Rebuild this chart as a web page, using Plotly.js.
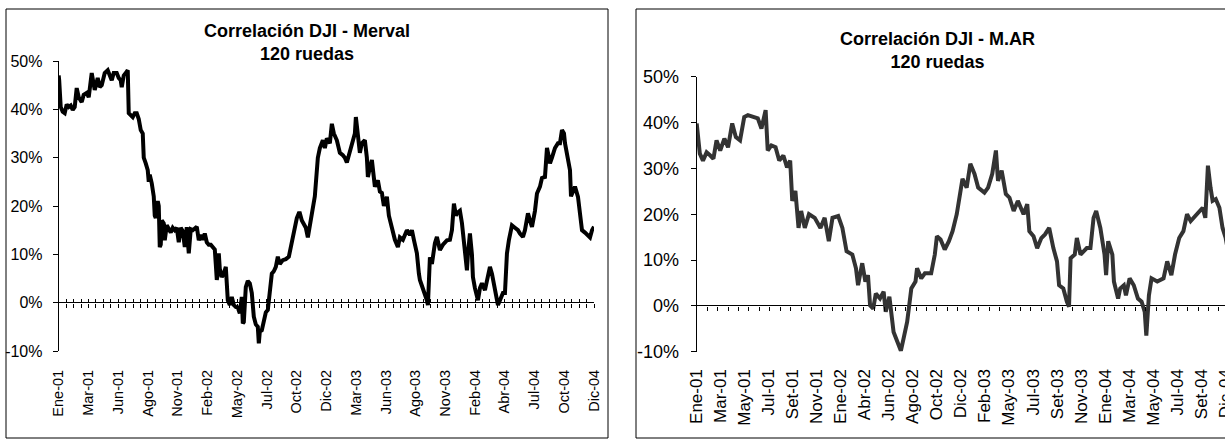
<!DOCTYPE html>
<html><head><meta charset="utf-8">
<script src="https://cdn.plot.ly/plotly-3.0.1.min.js"></script>
<style>html,body{margin:0;padding:0;overflow:hidden;background:#fff}#c{width:1250px;height:440px}</style>
</head><body><div id="c"></div>
<script>
// ---- Data (rueda index, correlation %) ----
const mervalDias = [0,1,4,8,12,16,20,24,28,32,36,40,46,50,56,60,66,70,72,78,82,86,92,98,102,106,110,116,120,124,126,130,134,138,140,144,148,152,156,160,164,168,170,174,178,180,182,186,190,192,194,196,198,200,202,204,206,210,212,216,220,224,228,232,236,240,244,248,252,256,260,264,268,272,276,280,284,288,292,296,300,304,308,312,314,316,318,320,322,326,330,334,336,338,342,346,350,354,358,362,366,368,370,372,374,378,382,386,390,394,398,400,402,406,410,414,418,422,426,430,434,438,442,448,454,460,464,468,472,476,480,482,486,490,494,498,502,506,508,512,518,522,528,532,536,542,546,550,556,562,568,572,576,582,588,592,594,598,602,606,612,616,618,622,626,632,638,642,646,650,656,660,666,672,678,682,688,692,696,702,706,710,716,720,722,726,732,736,738,742,746,752,756,760,762,768,772,776,782,786,790,794,796,802,806,808,812,816,818,822,826,828,832,838,842,846,852,856,862,866,872,876,878,882,888,892,896,900,906,912,918,922,928,932,938,942,946,952,956,962,966,972,976,980,982,986,992,998,1002,1006,1010,1012,1016,1022,1024,1028,1032,1038,1042,1046,1052,1056,1062,1066,1070];
const mervalCorr = [47,46,40.5,39.5,39.2,41,40.5,40.8,39.9,40.5,44.4,42.5,41.5,43,43.4,42.5,47.5,45,44,46.5,44.6,45,47.5,48.1,47,46,47.5,47.5,46.5,46,44.6,47,47.5,48.1,39.2,38.8,38.4,39.2,39.2,38,35.7,35,30,28.8,27.4,25,26.5,24.7,22,18,17.5,20.5,21,20,11.5,12,17,16.4,12.9,16,15.4,14.5,15.5,15,15.5,12.5,15.5,14.8,11.5,15.6,10.2,15.2,15,15.3,15.7,12.9,14,13,14.3,12.5,12,12,11.5,11,8,4.7,6,10.2,7,5.3,6,7.4,4,0.5,-0.5,1.2,-0.5,-0.9,-1,-2.2,1.2,-4.3,-4,1,3.2,4.5,4,2,-2.9,-4.5,-5,-8.4,-6,-5.7,-3.6,-2,-1.5,2.6,6,6.5,7.4,9.5,8,8.8,9,9.5,11.5,13,15.7,17.5,18.5,18.5,17,16,15.5,13.5,16,18,18.5,22,30,32,33.6,32,34,33,37,35,33.6,31,30.5,30,29,31,33,35,38.4,34,31,33,33.6,30,26,28,29.5,24,25.3,23,22.7,20,21.9,18,15.7,13,11.5,13.5,13,14,15,14,15,13,10.2,6,4.7,3.5,2,0.5,-0.5,9.4,8,12.3,13.6,11,10.9,12,12.5,12.9,13,15,20.5,18,18.5,19,16.5,14.3,12,6.7,10,14.3,10,5.3,3,0.5,3,4,2.6,4.5,7.4,6,3.2,1,-0.5,0.5,2,2,10.2,13,16,15.5,15,14.3,13.6,15,18.5,17,15.7,19,22.6,24,25.8,26,32,30,28.8,30,32,33,33,35.7,35,33,31,27.4,22,23.3,24,21.9,18,15,14.5,14,13.5,15,15.7];

const marDias = [0,6,12,19,26,32,38,45,53,60,68,75,83,91,98,109,117,124,132,136,143,151,158,166,173,179,183,189,195,200,207,215,226,237,245,253,260,271,279,287,298,305,309,317,323,328,332,338,343,351,358,362,369,377,385,391,396,403,411,419,422,430,437,449,456,460,467,475,483,490,498,505,509,517,524,532,539,551,558,566,573,577,584,592,599,607,615,626,633,637,645,652,660,667,675,683,690,694,702,709,713,716,724,728,735,747,754,760,765,773,781,784,788,796,799,807,811,818,822,829,837,845,852,858,861,866,871,882,894,901,909,916,924,932,939,946,958,969,974,979,984,988,994,1001,1007,1013,1017];
const marCorr = [39.8,33.2,31.7,33.5,32.8,32.1,36.1,33.9,36.5,34.6,39.8,36.8,36.1,41.2,41.6,41.2,40.9,38.7,42.7,33.9,35,34.6,31.7,32.8,30.2,31.7,22.9,25.1,17,20.7,17,20,19.2,17,19.2,14.1,19.2,19.6,17,11.9,11.2,8.2,4.5,9.3,5.3,6.7,0.1,-0.6,2.7,1.6,3.1,-1.3,2,-5.7,-7.9,-9.8,-7.2,-3.5,3.8,5.3,8.2,6,7.1,7.1,11.2,15.2,14.5,12.3,14.1,16.3,20,25.1,27.7,25.8,31,28.8,25.8,24.7,25.8,28.8,33.9,27.3,29.5,24.4,23.6,20.7,22.9,20,22.2,16.3,15.2,12.6,14.8,15.6,17,12.6,9.7,4.5,3.8,0.9,-0.2,10.4,11.2,14.8,11.2,12.6,12.6,19.2,20.7,17,11.2,6.7,14.1,11.2,5.3,1.6,3.8,4.5,2.3,6,4.5,1.6,0.9,-1.3,-6.5,2.3,6,5.3,6,9.7,6.7,11.2,14.8,16.3,20,18.5,20,21.4,19.2,30.6,25.8,22.9,23.3,21.4,17,14.8,12.3];

const mervalLabels = ['Ene-01','Mar-01','Jun-01','Ago-01','Nov-01','Feb-02','May-02','Jul-02','Oct-02','Dic-02','Mar-03','Jun-03','Ago-03','Nov-03','Feb-04','Abr-04','Jul-04','Oct-04','Dic-04'];
const marLabels = ['Ene-01','Mar-01','May-01','Jul-01','Set-01','Nov-01','Ene-02','Abr-02','Jun-02','Ago-02','Oct-02','Dic-02','Feb-03','May-03','Jul-03','Set-03','Nov-03','Ene-04','Mar-04','May-04','Jul-04','Set-04','Dic-04'];

const titles = ['Correlación DJI - Merval<br>120 ruedas', 'Correlación DJI - M.AR<br>120 ruedas'];

// ---- Layout config ----
const W = 1250, H = 440;
const FONT = 'Liberation Sans, Arial, sans-serif';
const L = {x0: 58.7, x1: 594, yTop: 61, yBot: 351, xmax: 1070, nTicks: 72};
const R = {x0: 696.7, x1: 1245, yTop: 76.7, yBot: 351.7, xmax: 1050, lblStep: 46, tickStep: 20};
const yr = [-10, 50];

function dom(a, b){ return [a / W, b / W]; }
function ydom(top, bot){ return [(H - bot) / H, (H - top) / H]; }
function zeroPos(d){ return d[0] + (0 - yr[0]) / (yr[1] - yr[0]) * (d[1] - d[0]); }

const Lxd = dom(L.x0, L.x1), Lyd = ydom(L.yTop, L.yBot);
const Rxd = dom(R.x0, R.x1), Ryd = ydom(R.yTop, R.yBot);

const LlabVals = mervalLabels.map((_, i) => i * L.xmax / (mervalLabels.length - 1));
const LtickVals = Array.from({length: L.nTicks + 1}, (_, i) => i * L.xmax / L.nTicks);
const RlabVals = marLabels.map((_, i) => i * R.lblStep);
const RtickVals = [];
for (let v = 0; v <= R.xmax; v += R.tickStep) RtickVals.push(v);

const traces = [
  {x: mervalDias, y: mervalCorr, xaxis: 'x', yaxis: 'y', type: 'scatter', mode: 'lines',
   line: {color: '#000000', width: 4}, hoverinfo: 'skip'},
  {x: marDias, y: marCorr, xaxis: 'x2', yaxis: 'y2', type: 'scatter', mode: 'lines',
   line: {color: '#333333', width: 4}, hoverinfo: 'skip'},
  // empty helper traces so the tick-only axes at the 0% line get drawn
  {x: [], y: [], xaxis: 'x3', yaxis: 'y', type: 'scatter', mode: 'lines', hoverinfo: 'skip'},
  {x: [], y: [], xaxis: 'x4', yaxis: 'y', type: 'scatter', mode: 'lines', hoverinfo: 'skip'},
  {x: [], y: [], xaxis: 'x5', yaxis: 'y2', type: 'scatter', mode: 'lines', hoverinfo: 'skip'}
];

const yBase = (fs, d, xa, standoff) => ({
  domain: d, range: yr, anchor: xa, tickmode: 'array', tickvals: [-10,0,10,20,30,40,50],
  ticktext: ['-10%','0%','10%','20%','30%','40%','50%'],
  showgrid: false, zeroline: true, zerolinecolor: '#000', zerolinewidth: 1,
  showline: true, linecolor: '#000', linewidth: 1, ticks: 'outside', ticklen: 5, tickcolor: '#000', tickwidth: 1,
  tickfont: {family: FONT, size: fs, color: '#000'}, ticklabelstandoff: standoff, fixedrange: true
});
const xLab = (d, rng, vals, text, fs, ya, standoff) => ({
  domain: d, range: rng, anchor: ya, tickmode: 'array', tickvals: vals, ticktext: text,
  tickangle: -90, ticks: '', showline: false, showgrid: false, zeroline: false,
  tickfont: {family: FONT, size: fs, color: '#000'}, ticklabelstandoff: standoff, fixedrange: true
});
const xTicks = (over, rng, vals, pos, dir) => ({
  overlaying: over, range: rng, anchor: 'free', position: pos, side: 'bottom',
  tickmode: 'array', tickvals: vals, showticklabels: false, ticks: dir, ticklen: 4, tickwidth: 1, tickcolor: '#000',
  showline: false, showgrid: false, zeroline: false, fixedrange: true
});

const layout = {
  width: W, height: H, margin: {l: 0, r: 0, t: 0, b: 0},
  paper_bgcolor: '#fff', plot_bgcolor: 'rgba(0,0,0,0)', showlegend: false,
  xaxis: xLab(Lxd, [0, L.xmax], LlabVals, mervalLabels, 14.5, 'y', 15),
  yaxis: yBase(16, Lyd, 'x', 7),
  xaxis2: xLab(Rxd, [0, R.xmax], RlabVals, marLabels, 17, 'y2', 13),
  yaxis2: yBase(18, Ryd, 'x2', 8),
  xaxis3: xTicks('x', [0, L.xmax], LtickVals, zeroPos(Lyd), 'outside'),
  xaxis4: xTicks('x', [0, L.xmax], LtickVals, zeroPos(Lyd), 'inside'),
  xaxis5: xTicks('x2', [0, R.xmax], RtickVals, zeroPos(Ryd), 'outside'),
  shapes: [
    {type: 'rect', xref: 'paper', yref: 'paper', x0: 6/W, x1: 608/W, y0: (H-438)/H, y1: (H-9)/H, line: {color: '#000', width: 1}},
    {type: 'rect', xref: 'paper', yref: 'paper', x0: 636/W, x1: 1240/W, y0: (H-438)/H, y1: (H-9)/H, line: {color: '#000', width: 1}}
  ],
  annotations: [
    {text: '<b>' + titles[0].replace('<br>', '</b><br><b>') + '</b>', xref: 'paper', yref: 'paper', x: 307/W, y: (H-42)/H,
     xanchor: 'center', yanchor: 'middle', showarrow: false, font: {family: FONT, size: 18, color: '#000'}},
    {text: '<b>' + titles[1].replace('<br>', '</b><br><b>') + '</b>', xref: 'paper', yref: 'paper', x: 937/W, y: (H-50)/H,
     xanchor: 'center', yanchor: 'middle', showarrow: false, font: {family: FONT, size: 18, color: '#000'}}
  ]
};

Plotly.newPlot('c', traces, layout, {staticPlot: true, displayModeBar: false});
</script>
</body></html>
